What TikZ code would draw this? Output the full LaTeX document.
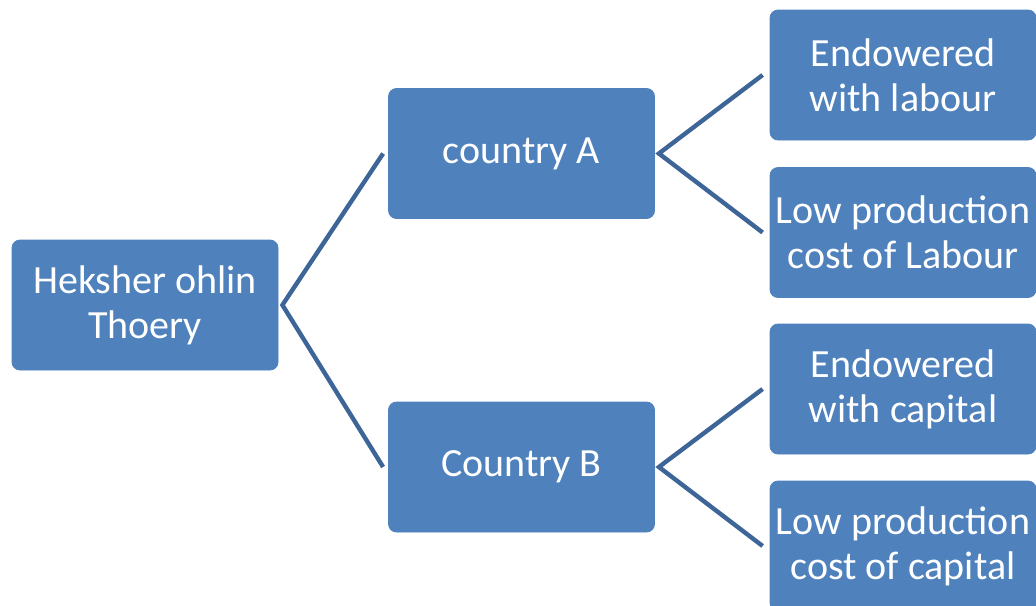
\documentclass[tikz,border=0pt]{standalone}
\usepackage{fontspec}
\setmainfont{Carlito}
\usepackage{tikz}
\usetikzlibrary{positioning,calc}
\definecolor{boxblue}{RGB}{79,129,189}
\definecolor{linkblue}{RGB}{62,101,151}

\begin{document}
\begin{tikzpicture}[x=0.5pt,y=-0.5pt,
  box/.style={draw=boxblue,fill=boxblue,rounded corners=4pt,text=white,
    minimum width=133pt,minimum height=65pt,inner sep=0pt,align=center,
    font=\fontsize{20}{22.5}\selectfont},
  link/.style={draw=linkblue,line width=2.2pt}]
  \clip (0,0) rectangle (1036,605);
  \useasboundingbox (0,0) rectangle (1036,605);
  % Root and countries
  \node[box] (theory) at (145,305) {Heksher ohlin\\Thoery};
  \node[box] (ctyA) at (521.5,153.5) {country A};
  \node[box] (ctyB) at (521.5,467) {Country B};
  % Endowments
  \node[box] (labA) at (903,75) {Endowered\\with labour};
  \node[box] (costA) at (903,232.5) {Low production\\cost of Labour};
  \node[box] (capB) at (903,389) {Endowered\\with capital};
  \node[box] (costB) at (903,546) {Low production\\cost of capital};
  % Connectors
  \draw[link] ([xshift=-2.5pt]ctyA.west) -- ([xshift=2pt]theory.east) -- ([xshift=-2.5pt]ctyB.west);
  \draw[link] ([xshift=-3.5pt]labA.west) -- ([xshift=2pt]ctyA.east) -- ([xshift=-3.5pt]costA.west);
  \draw[link] ([xshift=-3.5pt]capB.west) -- ([xshift=2pt]ctyB.east) -- ([xshift=-3.5pt]costB.west);
\end{tikzpicture}
\end{document}
